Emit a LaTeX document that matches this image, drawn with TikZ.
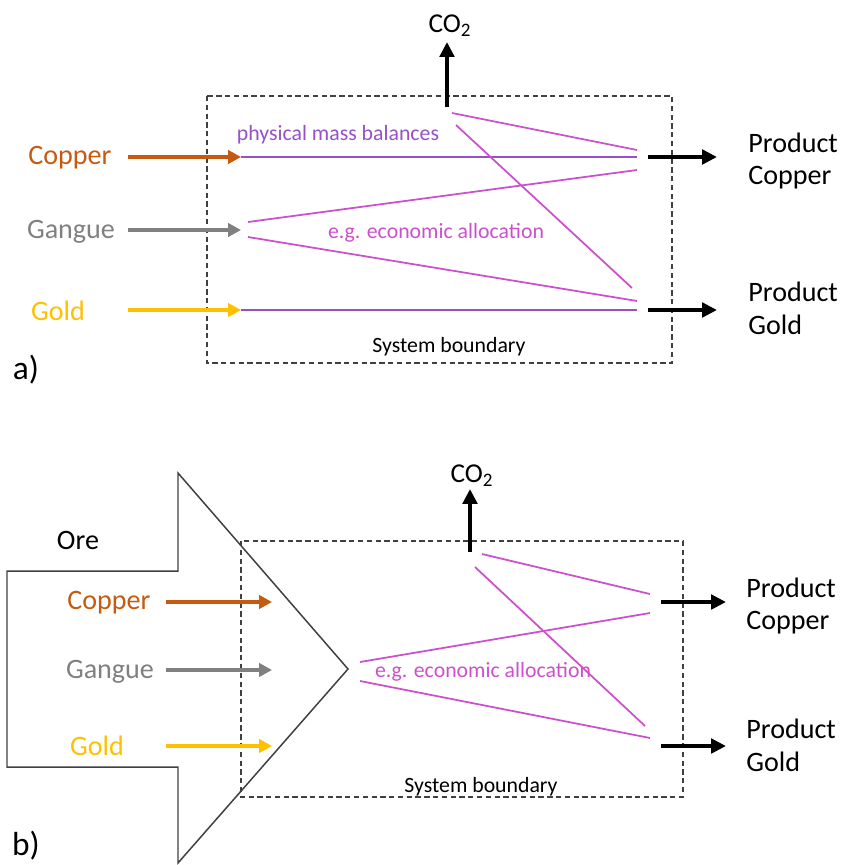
\documentclass[tikz,border=0pt]{standalone}
\usepackage{fontspec}
\setmainfont{Carlito}
\usetikzlibrary{arrows.meta}
\definecolor{copperC}{RGB}{197,90,17}
\definecolor{gangueC}{RGB}{128,128,128}
\definecolor{goldC}{RGB}{255,192,0}
\definecolor{massC}{RGB}{150,80,200}
\definecolor{allocC}{RGB}{204,80,204}
\definecolor{boxC}{RGB}{64,64,64}

\begin{document}
\begin{tikzpicture}
  [x=0.02cm,y=-0.02cm,
   bigT/.style={font=\fontsize{16}{18.7}\selectfont,inner sep=0pt},
   smallT/.style={font=\fontsize{12.4}{15}\selectfont,inner sep=0pt},
   prodT/.style={bigT,align=left,anchor=west},
   inArrow/.style={line width=2.3pt,-{Triangle[length=7.4pt,width=7.6pt]}},
   outArrow/.style={line width=2.6pt,-{Triangle[length=8.5pt,width=8.2pt]}},
   massL/.style={massC,line width=0.85pt},
   allocL/.style={allocC,line width=1pt},
   boundary/.style={boxC,line width=0.6pt,dash pattern=on 3pt off 2pt}]

  \useasboundingbox (0,0) rectangle (853,865);

  % ---- a) ----
  \draw[boundary] (207,96) rectangle (672,363);

  \node[bigT,copperC] (cuA) at (70,158) {Copper};
  \node[bigT,gangueC] (gaA) at (71,232) {Gangue};
  \node[bigT,goldC]   (auA) at (58,311) {Gold};
  \node[prodT] (pcA) at (748,161) {Product\\Copper};
  \node[prodT] (pgA) at (748,308) {Product\\Gold};
  \node[bigT,font=\fontsize{15.5}{18}\selectfont] (co2A) at (450,26) {CO\textsubscript{2}};
  \node[smallT,massC]  (mbA) at (338,135) {physical mass balances};
  \node[smallT,allocC] (eaA) at (436,233) {e.g. economic allocation};
  \node[smallT] (sbA) at (449,347) {System boundary};
  \node[bigT,font=\fontsize{19}{22}\selectfont] (labA) at (26,370) {a)};

  \path (128,157) coordinate (cuA0) (241,157) coordinate (cuA1)
        (128,230) coordinate (gaA0) (241,230) coordinate (gaA1)
        (128,310) coordinate (auA0) (241,310) coordinate (auA1)
        (637,157) coordinate (pcA0) (648,157) coordinate (pcA1) (717,157) coordinate (pcA2)
        (637,310) coordinate (pgA0) (648,310) coordinate (pgA1) (717,310) coordinate (pgA2)
        (447,107) coordinate (co2A0) (447,42) coordinate (co2A1)
        (452,113) coordinate (spA1) (456,125) coordinate (spA2)
        (248,222) coordinate (gaA2) (248,237) coordinate (gaA3)
        (637,150) coordinate (pcA3) (637,170) coordinate (pcA4)
        (632,288) coordinate (pgA3) (637,301) coordinate (pgA4);

  \draw[inArrow,copperC] (cuA0) -- (cuA1);
  \draw[inArrow,gangueC] (gaA0) -- (gaA1);
  \draw[inArrow,goldC]   (auA0) -- (auA1);
  \draw[massL] (cuA1) -- (pcA0);
  \draw[massL] (auA1) -- (pgA0);
  \draw[allocL] (spA1) -- (pcA3);
  \draw[allocL] (spA2) -- (pgA3);
  \draw[allocL] (gaA2) -- (pcA4);
  \draw[allocL] (gaA3) -- (pgA4);
  \draw[outArrow] (pcA1) -- (pcA2);
  \draw[outArrow] (pgA1) -- (pgA2);
  \draw[outArrow] (co2A0) -- (co2A1);

  % ---- b) ----
  \draw[boxC,line width=0.85pt] (7,571) -- (178,571) -- (178,473) -- (348,669)
    -- (178,863) -- (178,767) -- (7,767) -- cycle;
  \draw[boundary] (241,541) rectangle (683,797);

  \node[bigT] (ore) at (78,540) {Ore};
  \node[bigT,copperC] (cuB) at (109,603) {Copper};
  \node[bigT,gangueC] (gaB) at (110,672) {Gangue};
  \node[bigT,goldC]   (auB) at (97,746) {Gold};
  \node[prodT] (pcB) at (746,606) {Product\\Copper};
  \node[prodT] (pgB) at (746,745) {Product\\Gold};
  \node[bigT,font=\fontsize{15.5}{18}\selectfont] (co2B) at (472,476) {CO\textsubscript{2}};
  \node[smallT,allocC] (eaB) at (483,672) {e.g. economic allocation};
  \node[smallT] (sbB) at (481,787) {System boundary};
  \node[bigT,font=\fontsize{19}{22}\selectfont] (labB) at (26,846) {b)};

  \path (166,602) coordinate (cuB0) (272,602) coordinate (cuB1)
        (166,670) coordinate (gaB0) (272,670) coordinate (gaB1)
        (166,746) coordinate (auB0) (272,746) coordinate (auB1)
        (661,602) coordinate (pcB1) (726,602) coordinate (pcB2)
        (661,746) coordinate (pgB1) (726,746) coordinate (pgB2)
        (470,552) coordinate (co2B0) (470,489) coordinate (co2B1)
        (482,554) coordinate (spB1) (475,567) coordinate (spB2)
        (360,662) coordinate (gaB2) (360,681) coordinate (gaB3)
        (650,594) coordinate (pcB3) (650,613) coordinate (pcB4)
        (645,726) coordinate (pgB3) (650,738) coordinate (pgB4);

  \draw[inArrow,copperC] (cuB0) -- (cuB1);
  \draw[inArrow,gangueC] (gaB0) -- (gaB1);
  \draw[inArrow,goldC]   (auB0) -- (auB1);
  \draw[allocL] (spB1) -- (pcB3);
  \draw[allocL] (spB2) -- (pgB3);
  \draw[allocL] (gaB2) -- (pcB4);
  \draw[allocL] (gaB3) -- (pgB4);
  \draw[outArrow] (pcB1) -- (pcB2);
  \draw[outArrow] (pgB1) -- (pgB2);
  \draw[outArrow] (co2B0) -- (co2B1);
\end{tikzpicture}
\end{document}
